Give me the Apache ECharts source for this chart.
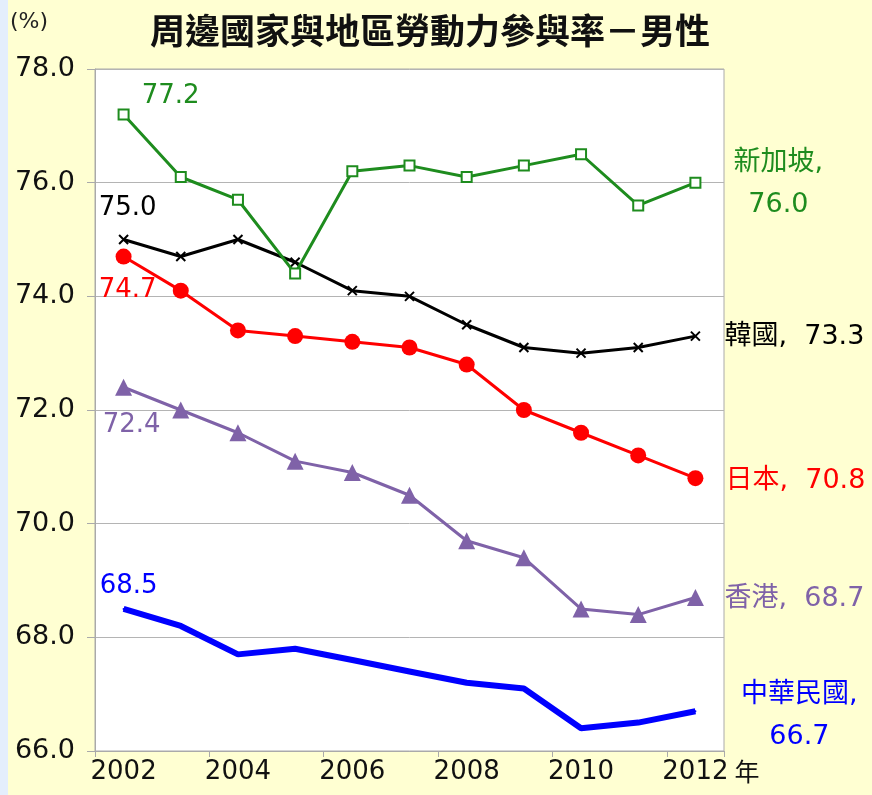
<!DOCTYPE html>
<html>
<head>
<meta charset="utf-8">
<script src="https://cdn.jsdelivr.net/npm/echarts@6/dist/echarts.min.js"></script>
<style>
  html, body { margin: 0; padding: 0; }
  #main { width: 872px; height: 795px; }
</style>
</head>
<body>
<div id="main"></div>
<script>
// years on x axis
var years = ['2002', '2003', '2004', '2005', '2006', '2007', '2008', '2009', '2010', '2011', '2012'];
var yTicks = [66, 68, 70, 72, 74, 76, 78];

// labour force participation rate, male (%)
var singapore = [77.2, 76.1, 75.7, 74.4, 76.2, 76.3, 76.1, 76.3, 76.5, 75.6, 76.0];
var korea     = [75.0, 74.7, 75.0, 74.6, 74.1, 74.0, 73.5, 73.1, 73.0, 73.1, 73.3];
var japan     = [74.7, 74.1, 73.4, 73.3, 73.2, 73.1, 72.8, 72.0, 71.6, 71.2, 70.8];
var hongkong  = [72.4, 72.0, 71.6, 71.1, 70.9, 70.5, 69.7, 69.4, 68.5, 68.4, 68.7];
var taiwan    = [68.5, 68.2, 67.7, 67.8, 67.6, 67.4, 67.2, 67.1, 66.4, 66.5, 66.7];

var seriesNames = ['新加坡', '韓國', '日本', '香港', '中華民國'];

var numFont = 'DejaVu Sans, Noto Sans CJK TC, sans-serif';
var cjkFont = 'Noto Sans CJK TC, DejaVu Sans, sans-serif';

// builds data items with first / last point labels
function withLabels(values, name, color, firstOff, lastOff, lastBreak) {
  return values.map(function (v, i) {
    var item = { value: v };
    if (i === 0) {
      item.label = {
        show: true, position: 'inside', offset: firstOff,
        formatter: v.toFixed(1), color: color,
        fontSize: 26, fontFamily: numFont
      };
    } else if (i === values.length - 1) {
      item.label = {
        show: true, position: 'inside', offset: lastOff, align: 'center',
        formatter: name + ',' + (lastBreak ? '\n' : '  ') + v.toFixed(1),
        color: color, fontSize: 27, fontFamily: numFont, lineHeight: 42
      };
    }
    return item;
  });
}

var chart = echarts.init(document.getElementById('main'));
chart.setOption({
  animation: false,
  backgroundColor: '#FFFFD2',
  graphic: [
    { type: 'rect', left: 0, top: 0, z: -10, shape: { width: 8, height: 795 }, style: { fill: '#E4EEFC' } },
    { type: 'text', left: 10, top: 11, style: { text: '(%)', fontSize: 22, fontFamily: numFont, fill: '#222' } }
  ],
  title: {
    text: '周邊國家與地區勞動力參與率－男性',
    left: 425, top: 8, textAlign: 'center',
    textStyle: { fontSize: 35, fontWeight: 'bold', fontFamily: cjkFont, color: '#111' }
  },
  grid: {
    left: 95, right: 148, top: 69, bottom: 44,
    show: true, backgroundColor: '#FFFFFF', borderColor: '#AAAAAA', borderWidth: 1
  },
  xAxis: {
    type: 'category',
    data: years,
    boundaryGap: true,
    name: '年',
    nameLocation: 'end',
    nameGap: 10,
    nameTextStyle: { fontSize: 25, fontFamily: cjkFont, color: '#111', verticalAlign: 'top', padding: [8, 0, 0, 0] },
    axisLine: { lineStyle: { color: '#AAAAAA', width: 1 } },
    axisTick: { show: true, interval: 1, length: 6, lineStyle: { color: '#AAAAAA' } },
    axisLabel: { interval: 1, fontSize: 26, fontFamily: numFont, color: '#111', margin: 8 },
    splitLine: { show: false }
  },
  yAxis: {
    type: 'value',
    min: yTicks[0], max: yTicks[yTicks.length - 1], interval: 2,
    axisLine: { show: true, lineStyle: { color: '#AAAAAA', width: 1 } },
    axisTick: { show: true, length: 8, lineStyle: { color: '#AAAAAA' } },
    axisLabel: {
      fontSize: 27, fontFamily: numFont, color: '#111', margin: 20,
      formatter: function (v) { return v.toFixed(1); }
    },
    splitLine: { show: true, lineStyle: { color: '#B4B4B4', width: 1 } }
  },
  series: [
    {
      name: seriesNames[0], type: 'line', z: 5,
      symbol: 'rect', symbolSize: 10,
      lineStyle: { color: '#1E8C1E', width: 3 },
      itemStyle: { color: '#FFFFFF', borderColor: '#1E8C1E', borderWidth: 2 },
      data: withLabels(singapore, seriesNames[0], '#1E8C1E', [47, -18], [83, 1], true)
    },
    {
      name: seriesNames[1], type: 'line', z: 4,
      symbol: 'path://M0,0L10,10M10,0L0,10', symbolSize: 9,
      lineStyle: { color: '#000000', width: 3 },
      itemStyle: { color: '#000000', borderColor: '#000000', borderWidth: 2 },
      data: withLabels(korea, seriesNames[1], '#000000', [4, -31], [99, 1], false)
    },
    {
      name: seriesNames[2], type: 'line', z: 3,
      symbol: 'circle', symbolSize: 16,
      lineStyle: { color: '#FF0000', width: 3 },
      itemStyle: { color: '#FF0000' },
      data: withLabels(japan, seriesNames[2], '#FF0000', [4, 34], [100, 3], false)
    },
    {
      name: seriesNames[3], type: 'line', z: 3,
      symbol: 'triangle', symbolSize: 17,
      lineStyle: { color: '#7F62A8', width: 3 },
      itemStyle: { color: '#7F62A8' },
      data: withLabels(hongkong, seriesNames[3], '#7F62A8', [8, 38], [99, 1], false)
    },
    {
      name: seriesNames[4], type: 'line', z: 3,
      symbol: 'circle', symbolSize: 2,
      lineStyle: { color: '#0000FF', width: 6 },
      itemStyle: { color: '#0000FF' },
      data: withLabels(taiwan, seriesNames[4], '#0000FF', [5, -23], [104, 5], true)
    }
  ]
});
</script>
</body>
</html>
